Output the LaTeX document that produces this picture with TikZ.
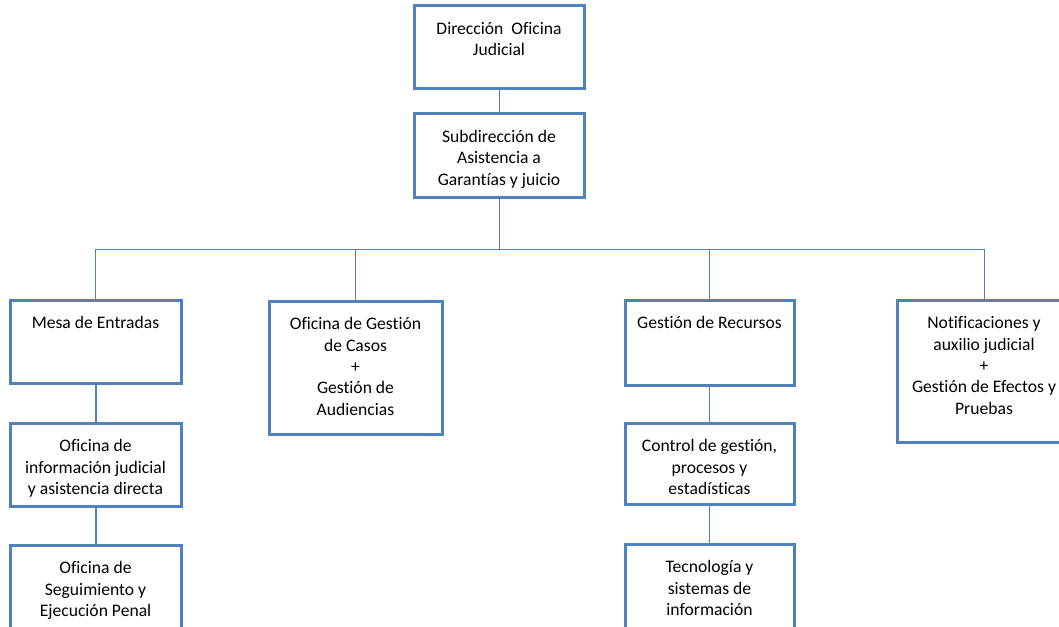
\documentclass[tikz,border=0pt]{standalone}
\usepackage{fontspec}
\setmainfont{Carlito}[Ligatures=NoCommon]
\definecolor{boxblue}{HTML}{4F81BD}
\newcommand\bxt[3]{\parbox[c][#2pt][t]{#1pt}{\centering\rule{0pt}{21.5pt}#3}}
\tikzset{
  orgbox/.style={draw=boxblue, line width=2.25pt, inner sep=0pt, fill=white,
    font=\fontsize{13.2}{16}\selectfont},
  thinlink/.style={draw=boxblue, line width=0.75pt},
  thicklink/.style={draw=boxblue, line width=1.5pt}
}
\begin{document}
\begin{tikzpicture}[x=0.75pt,y=-0.75pt]
\useasboundingbox (0,0) rectangle (1059,627);
\clip (0,0) rectangle (1059,627);
\node[orgbox] (dir) at (499,47.5) {\bxt{127.5}{62.25}{Dirección\ \ Oficina\\Judicial}};
\node[orgbox] (sub) at (499,156) {\bxt{127.5}{63}{Subdirección de\\Asistencia a\\Garantías y juicio}};
\node[orgbox] (mesa) at (95.5,341.5) {\bxt{128.25}{62.25}{Mesa de Entradas}};
\node[orgbox] (casos) at (355.5,367.5) {\bxt{129.75}{99.75}{Oficina de Gestión\\de Casos\\+\\Gestión de\\Audiencias}};
\node[orgbox] (rec) at (709.5,342.5) {\bxt{126.75}{63.75}{Gestión de Recursos}};
\node[orgbox] (notif) at (984,371) {\bxt{130.5}{106.5}{Notificaciones y\\auxilio judicial\\+\\Gestión de Efectos y\\Pruebas}};
\node[orgbox] (info) at (95.5,464.5) {\bxt{128.25}{62.25}{Oficina de\\información judicial\\y asistencia directa}};
\node[orgbox] (seg) at (95.5,587.5) {\bxt{128.25}{63.75}{Oficina de\\Seguimiento y\\Ejecución Penal}};
\node[orgbox] (ctrl) at (709.5,463.5) {\bxt{126.75}{60.75}{Control de gestión,\\procesos y\\estadísticas}};
\node[orgbox] (tec) at (709.5,586.5) {\bxt{126.75}{63.75}{Tecnología y\\sistemas de\\información}};
\coordinate (bus) at (0,249);
\draw[thinlink] (dir.south) -- (sub.north);
\draw[thinlink] (sub.south) -- (sub.south |- bus);
\draw[thinlink] (mesa.north |- bus) -- (notif.north |- bus);
\draw[thinlink] (mesa.north |- bus) -- (mesa.north);
\draw[thinlink] (casos.north |- bus) -- (casos.north);
\draw[thinlink] (rec.north |- bus) -- (rec.north);
\draw[thinlink] (notif.north |- bus) -- (notif.north);
\draw[thicklink] (mesa.south) -- (info.north);
\draw[thicklink] (info.south) -- (seg.north);
\draw[thinlink] (rec.south) -- (ctrl.north);
\draw[thinlink] (ctrl.south) -- (tec.north);
\end{tikzpicture}
\end{document}
